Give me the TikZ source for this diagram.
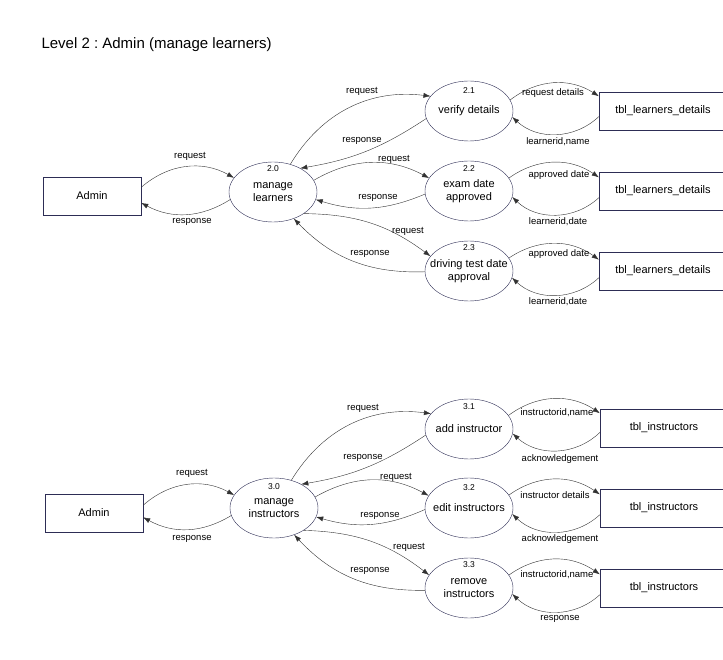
\documentclass[tikz,border=0pt]{standalone}
\usepackage{fontspec}
\setmainfont{Liberation Sans}
\usetikzlibrary{shapes.geometric,arrows.meta}
\definecolor{procline}{RGB}{45,45,85}
\definecolor{flowline}{RGB}{50,50,50}
\frenchspacing
\begin{document}
\begin{tikzpicture}[x=1pt, y=-1pt,
    proc/.style={ellipse, draw=procline, minimum width=88pt, minimum height=60pt, inner ysep=0pt, inner xsep=-8pt, align=center, font=\fontsize{11}{13}\selectfont},
    ent/.style={rectangle, draw=procline, minimum width=98pt, minimum height=38pt, font=\fontsize{11}{13}\selectfont},
    store/.style={ent, minimum width=128pt},
    num/.style={inner sep=0pt, font=\fontsize{8.5}{10}\selectfont},
    lbl/.style={inner sep=0pt, font=\fontsize{9.5}{11}\selectfont},
    flow/.style={draw=flowline, -{Latex[length=7pt,width=5pt]}}]
    \useasboundingbox (0, 0) rectangle (723, 660);
    \node (title) at (38, 45) [anchor=west, font=\fontsize{15}{18}\selectfont] {Level 2 : Admin (manage learners)};

    \node (admin1) at (92, 196) [ent] {Admin};
    \node (p20) at (273, 192) [proc] {manage\\learners};
    \node (p21) at (469, 111) [proc] {verify details};
    \node (p22) at (469, 191) [proc] {exam date\\approved};
    \node (p23) at (469, 271) [proc] {driving test date\\approval};
    \node (n20) at (273, 169) [num] {2.0};
    \node (n21) at (469, 91) [num] {2.1};
    \node (n22) at (469, 169) [num] {2.2};
    \node (n23) at (469, 248) [num] {2.3};
    \node (tbl1) at (663, 111) [store] {tbl\_learners\_details};
    \node (tbl2) at (663, 191) [store] {tbl\_learners\_details};
    \node (tbl3) at (663, 271) [store] {tbl\_learners\_details};

    \draw[flow] (admin1.10) to[bend left=35] (p20.160);
    \draw[flow] (p20.190) to[bend left=30] (admin1.-8);
    \draw[flow] (p20.58) to[bend left=33] (p21.159);
    \draw[flow] (p21.190) to[bend left=12] (p20.41);
    \draw[flow] (p20.16) to[bend left=29] (p22.162);
    \draw[flow] (p22.184) to[bend left=20] (p20.-10);
    \draw[flow] (p20.-35) to[bend left=18] (p23.159);
    \draw[flow] (p23.181) to[bend left=24] (p20.-52);
    \draw[flow] (p21.15) to[bend left=35] (tbl1.167);
    \draw[flow] (tbl1.185) to[bend left=43] (p21.-8);
    \draw[flow] (p22.18) to[bend left=35] (tbl2.168);
    \draw[flow] (tbl2.186) to[bend left=43] (p22.-8);
    \draw[flow] (p23.18) to[bend left=35] (tbl3.170);
    \draw[flow] (tbl3.186) to[bend left=43] (p23.-9);

    \node (l1) at (190, 156) [lbl] {request};
    \node (l2) at (192, 222) [lbl] {response};
    \node (l3) at (362, 91) [lbl] {request};
    \node (l4) at (362, 141) [lbl] {response};
    \node (l5) at (394, 159) [lbl] {request};
    \node (l6) at (378, 198) [lbl] {response};
    \node (l7) at (408, 231) [lbl] {request};
    \node (l8) at (370, 254) [lbl] {response};
    \node (l9) at (553, 93) [lbl] {request details};
    \node (l10) at (558, 142) [lbl] {learnerid,name};
    \node (l11) at (559, 175) [lbl] {approved date};
    \node (l12) at (558, 222) [lbl] {learnerid,date};
    \node (l13) at (559, 254) [lbl] {approved date};
    \node (l14) at (558, 302) [lbl] {learnerid,date};

    \node (admin2) at (94, 513) [ent] {Admin};
    \node (p30) at (274, 508) [proc] {manage\\instructors};
    \node (p31) at (469, 429) [proc] {add instructor};
    \node (p32) at (469, 508) [proc] {edit instructors};
    \node (p33) at (469, 588) [proc] {remove\\instructors};
    \node (n30) at (274, 487) [num] {3.0};
    \node (n31) at (469, 407) [num] {3.1};
    \node (n32) at (469, 488) [num] {3.2};
    \node (n33) at (469, 565) [num] {3.3};
    \node (tbl4) at (664, 428) [store] {tbl\_instructors};
    \node (tbl5) at (664, 508) [store] {tbl\_instructors};
    \node (tbl6) at (664, 588) [store] {tbl\_instructors};

    \draw[flow] (admin2.9) to[bend left=35] (p30.162);
    \draw[flow] (p30.190) to[bend left=30] (admin2.-5);
    \draw[flow] (p30.58) to[bend left=33] (p31.158);
    \draw[flow] (p31.188) to[bend left=12] (p30.41);
    \draw[flow] (p30.15) to[bend left=29] (p32.163);
    \draw[flow] (p32.182) to[bend left=20] (p30.-12);
    \draw[flow] (p30.-37) to[bend left=18] (p33.162);
    \draw[flow] (p33.183) to[bend left=24] (p30.-53);
    \draw[flow] (p31.19) to[bend left=35] (tbl4.167);
    \draw[flow] (tbl4.184) to[bend left=43] (p31.-6);
    \draw[flow] (p32.18) to[bend left=35] (tbl5.168);
    \draw[flow] (tbl5.186) to[bend left=43] (p32.-8);
    \draw[flow] (p33.18) to[bend left=35] (tbl6.168);
    \draw[flow] (tbl6.186) to[bend left=43] (p33.-8);

    \node (m1) at (192, 473) [lbl] {request};
    \node (m2) at (192, 539) [lbl] {response};
    \node (m3) at (363, 408) [lbl] {request};
    \node (m4) at (363, 458) [lbl] {response};
    \node (m5) at (396, 477) [lbl] {request};
    \node (m6) at (380, 516) [lbl] {response};
    \node (m7) at (409, 547) [lbl] {request};
    \node (m8) at (370, 571) [lbl] {response};
    \node (m9) at (557, 413) [lbl] {instructorid,name};
    \node (m10) at (560, 459) [lbl] {acknowledgement};
    \node (m11) at (555, 495) [lbl] {instructor details};
    \node (m12) at (560, 539) [lbl] {acknowledgement};
    \node (m13) at (557, 575) [lbl] {instructorid,name};
    \node (m14) at (560, 619) [lbl] {response};
\end{tikzpicture}
\end{document}
